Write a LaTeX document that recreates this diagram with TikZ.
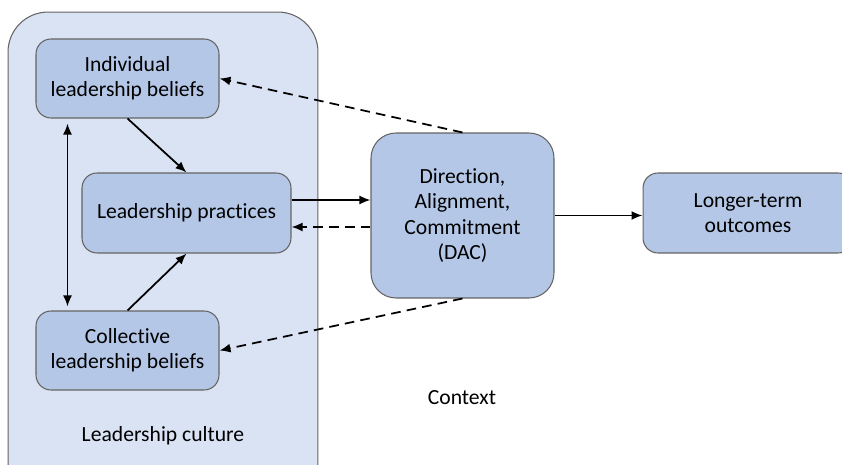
\documentclass[tikz,border=0pt]{standalone}
\usepackage{fontspec}
\setmainfont{Carlito}[Ligatures=NoCommon]
\usepackage{xcolor}
\definecolor{cultureblue}{RGB}{218,227,243}
\definecolor{boxblue}{RGB}{180,199,231}
\definecolor{edgegray}{RGB}{100,100,100}
\usetikzlibrary{arrows.meta}
\usetikzlibrary{calc}
\tikzset{
	culturebox/.style={draw=edgegray, fill=cultureblue, line width=0.6pt, rounded corners=0.8cm, minimum width=6.2cm, minimum height=10cm},
	factorbox/.style={draw=edgegray, fill=boxblue, line width=0.6pt, rounded corners=0.3cm, align=center, inner sep=2pt},
	link/.style={line width=1pt, -{Latex[length=2.2mm,width=1.8mm]}},
	feedback/.style={link, dash pattern=on 5.5pt off 3.5pt}
}

\begin{document}
\begin{tikzpicture}[x=0.02cm, y=-0.02cm, font=\fontsize{12.3}{14.5}\selectfont]

	\clip (0,0) rectangle (842,465);

	% Leadership culture
	\node[culturebox] (culture) at (163,262) {};
	\node (culturetext) at (163,436) {Leadership culture};

	% beliefs and practices
	\node[factorbox, minimum width=3.66cm, minimum height=1.58cm] (individual) at (127.5,78.5) {Individual\\leadership beliefs};
	\node[factorbox, minimum width=4.18cm, minimum height=1.6cm] (practices) at (186.5,213) {Leadership practices};
	\node[factorbox, minimum width=3.66cm, minimum height=1.58cm] (collective) at (127.5,350.5) {Collective\\leadership beliefs};

	% DAC
	\node[factorbox, minimum width=3.66cm, minimum height=3.3cm, rounded corners=0.5cm] (dac) at (462.5,215.5) {Direction,\\Alignment,\\Commitment\\(DAC)};

	% outcomes
	\node[factorbox, minimum width=4.2cm, minimum height=1.6cm] (outcomes) at (748,213) {Longer-term\\outcomes};

	\node (context) at (462,398) {Context};

	% arrows inside the culture
	\draw[link] (individual.south) -- (practices.north);
	\draw[link] (collective.north) -- (practices.south);
	\draw[link, {Latex[length=2.2mm,width=1.8mm]}-{Latex[length=2.2mm,width=1.8mm]}] ([xshift=-1.2cm,yshift=-0.1cm]individual.south) -- ([xshift=-1.2cm,yshift=0.08cm]collective.north);

	% to and from DAC
	\draw[link] ([yshift=0.26cm]practices.east) -- ([yshift=0.26cm]practices.east -| dac.west);
	\draw[feedback] ([yshift=-0.28cm]practices.east -| dac.west) -- ([yshift=-0.28cm]practices.east);
	\draw[feedback] (dac.north) -- (individual.east);
	\draw[feedback] (dac.south) -- (collective.east);
	\draw[link] (dac.east) -- (dac.east -| outcomes.west);

\end{tikzpicture}
\end{document}
